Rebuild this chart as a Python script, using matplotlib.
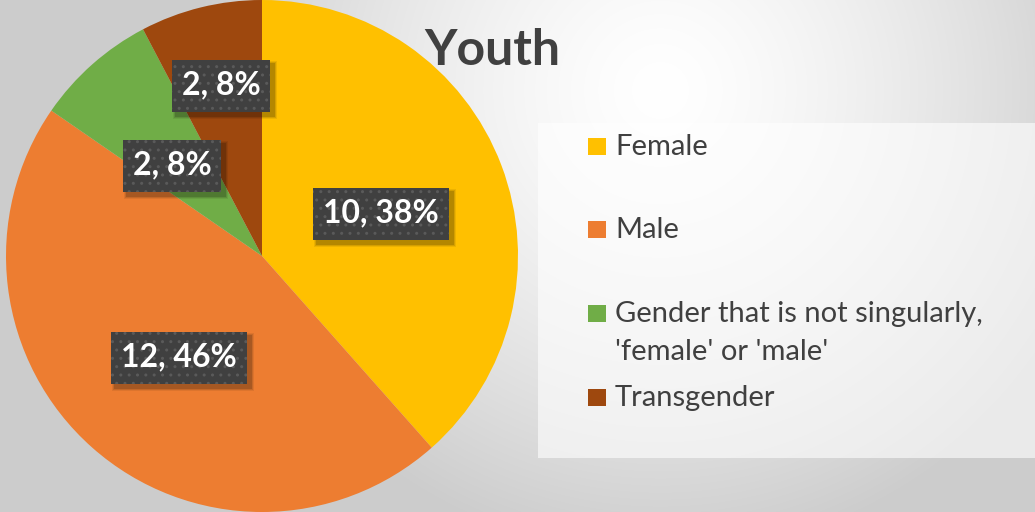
import matplotlib.pyplot as plt
import numpy as np
from matplotlib.transforms import IdentityTransform

categories = ["Female", "Male", "Gender that is not singularly,\n'female' or 'male'", "Transgender"]
counts = [10, 12, 2, 2]
colors = ["#FFC000", "#ED7D31", "#70AD47", "#9E480E"]
title = "Youth"

# where Excel put the data labels (pie data coords) and legend baselines (pixels)
label_pos = [(0.465, 0.168), (-0.324, -0.395), (-0.352, 0.355), (-0.16, 0.668)]
legend_rows = [155, 238, 322, 406]

W, H = 1035, 512
plt.rcParams['font.family'] = ['Lato', 'DejaVu Sans']
fig = plt.figure(figsize=(W / 100, H / 100), dpi=100)

# background: soft radial grey gradient
bg = fig.add_axes([0, 0, 1, 1], zorder=0)
yy, xx = np.mgrid[0:H, 0:W]
d = np.hypot(xx - 660, yy - 90) / 470
g = 1 - 0.2 * np.clip(d, 0, 1) ** 1.4
bg.imshow(np.dstack([g, g, g]), extent=[0, W, H, 0], aspect='auto')
bg.set_xlim(0, W)
bg.set_ylim(H, 0)
bg.axis('off')

# legend panel
bg.add_patch(plt.Rectangle((538, 123), W - 538, 335, facecolor='white', alpha=0.6, lw=0))

ax = fig.add_axes([6 / W, 0, 512 / W, 1], zorder=2)
ax.pie(counts, colors=colors, startangle=90, counterclock=False,
       wedgeprops=dict(linewidth=0))
ax.set_xlim(-1, 1)
ax.set_ylim(-1, 1)
ax.set_aspect('equal')
ax.axis('off')

total = sum(counts)
labels = []
for n, (x, y) in zip(counts, label_pos):
    s = f"{n}, {round(100 * n / total)}%"
    t = ax.text(x, y, s, ha='center', va='center', fontsize=23, fontweight='bold',
                color='white', zorder=6)
    labels.append(t)

# title (upper line is cut off in the reference)
fig.text(492 / W, 1 - 65 / H, title, ha='center', va='baseline', fontsize=36,
         fontweight='bold', color='#404040', zorder=3)

# legend
for lab, col, ry in zip(categories, colors, legend_rows):
    bg.add_patch(plt.Rectangle((588, ry - 17.5), 18, 17.5, facecolor=col, lw=0, zorder=3))
    for i, line in enumerate(lab.split('\n')):
        bg.text(615, ry + 38 * i, line, ha='left', va='baseline', fontsize=21, color='#404040')

# dark label boxes with a soft drop shadow
fig.canvas.draw()
r = fig.canvas.get_renderer()
for t, (x, y) in zip(labels, label_pos):
    tb = t.get_window_extent(r)
    cx, cy = ax.transData.transform((x, y))
    bw, bh = tb.width + 20, 52
    x0, y0 = cx - bw / 2, cy - bh / 2 - 1
    for k, a in [(6, 0.07), (4, 0.1), (2, 0.15)]:
        ax.add_patch(plt.Rectangle((x0 + 4 - k / 2, y0 - 4 - k / 2), bw + k, bh + k,
                                   transform=IdentityTransform(), facecolor='black',
                                   alpha=a, lw=0, zorder=3))
    ax.add_patch(plt.Rectangle((x0, y0), bw, bh, transform=IdentityTransform(),
                               facecolor='#404040', edgecolor='#5a5a5a', hatch='..',
                               lw=0, zorder=4))

fig.savefig('out.png', dpi=100)
